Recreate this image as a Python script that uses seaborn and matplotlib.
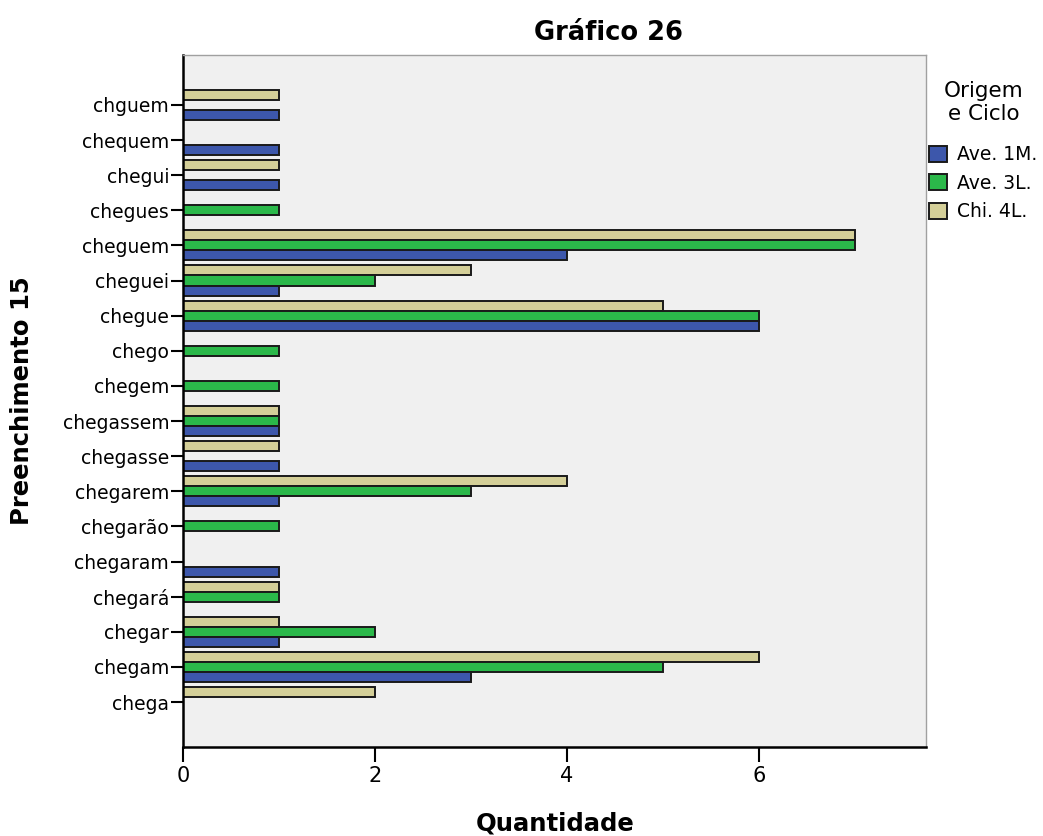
import matplotlib
matplotlib.use("Agg")
import matplotlib.pyplot as plt
import seaborn as sns
import pandas as pd
from matplotlib.patches import Patch

categories = [
    "chguem", "chequem", "chegui", "chegues", "cheguem", "cheguei", "chegue",
    "chego", "chegem", "chegassem", "chegasse", "chegarem", "chegarão",
    "chegaram", "chegará", "chegar", "chegam", "chega",
]
ave_1m = [1, 1, 1, 0, 4, 1, 6, 0, 0, 1, 1, 1, 0, 1, 0, 1, 3, 0]
ave_3l = [0, 0, 0, 1, 7, 2, 6, 1, 1, 1, 0, 3, 1, 0, 1, 2, 5, 0]
chi_4l = [1, 0, 1, 0, 7, 3, 5, 0, 0, 1, 1, 4, 0, 0, 1, 1, 6, 2]
groups = ["Ave. 1M.", "Ave. 3L.", "Chi. 4L."]
colors = {"Ave. 1M.": "#3d57ab", "Ave. 3L.": "#2bb84a", "Chi. 4L.": "#d4cf98"}

rows = []
for g, vals in zip(groups, [ave_1m, ave_3l, chi_4l]):
    for c, v in zip(categories, vals):
        rows.append({"Preenchimento": c, "Grupo": g, "Quantidade": v})
df = pd.DataFrame(rows)

sns.set_style("white")
plt.rcParams["font.family"] = ["DejaVu Sans"]
plt.rcParams["text.color"] = "black"

fig = plt.figure(figsize=(10.43, 8.36), dpi=100)
ax = fig.add_axes([0.1755, 0.1065, 0.7123, 0.8277])
ax.set_facecolor("#f0f0f0")

sns.barplot(
    data=df, y="Preenchimento", x="Quantidade", hue="Grupo",
    order=categories, hue_order=["Chi. 4L.", "Ave. 3L.", "Ave. 1M."],
    palette=colors, saturation=1, orient="h", width=0.86,
    edgecolor="#1a1a1a", linewidth=1.4, errorbar=None, ax=ax, legend=False,
)

ax.set_xlim(0, 7.74)
ax.set_ylim(len(categories) - 1 + 1.28, -1.42)
ax.set_xticks([0, 2, 4, 6])
ax.tick_params(axis="both", which="both", direction="out", width=1.5,
               colors="black")
ax.tick_params(axis="y", length=9, pad=1, labelsize=13.5)
ax.tick_params(axis="x", length=11, pad=3, labelsize=15)
ax.xaxis.set_ticks_position("bottom")
ax.yaxis.set_ticks_position("left")

for side in ["left", "bottom"]:
    ax.spines[side].set_color("black")
    ax.spines[side].set_linewidth(1.8)
for side in ["top", "right"]:
    ax.spines[side].set_color("#a0a0a0")
    ax.spines[side].set_linewidth(1)

ax.set_xlabel("")
ax.set_ylabel("")
fig.text(0.532, 0.007, "Quantidade", fontsize=17.5, fontweight="bold",
         ha="center", va="baseline")
fig.text(0.021, 0.521, "Preenchimento 15", fontsize=17.5, fontweight="bold",
         rotation=90, ha="center", va="center")
fig.text(0.583, 0.952, "Gráfico 26", fontsize=18.5, fontweight="bold",
         ha="center", va="baseline")

handles = [Patch(facecolor=colors[g], edgecolor="#1a1a1a", linewidth=1.4, label=g)
           for g in groups]
leg = fig.legend(
    handles=handles, title="Origem\ne Ciclo", loc="upper left",
    bbox_to_anchor=(0.891, 0.903), frameon=False, fontsize=13.5,
    title_fontsize=15.5, handlelength=0.95, handleheight=0.95,
    handletextpad=0.55, labelspacing=0.51, borderaxespad=0, borderpad=0,
)
leg.get_title().set_multialignment("center")
leg._legend_box.sep = 15

fig.savefig("out.png", dpi=100)
